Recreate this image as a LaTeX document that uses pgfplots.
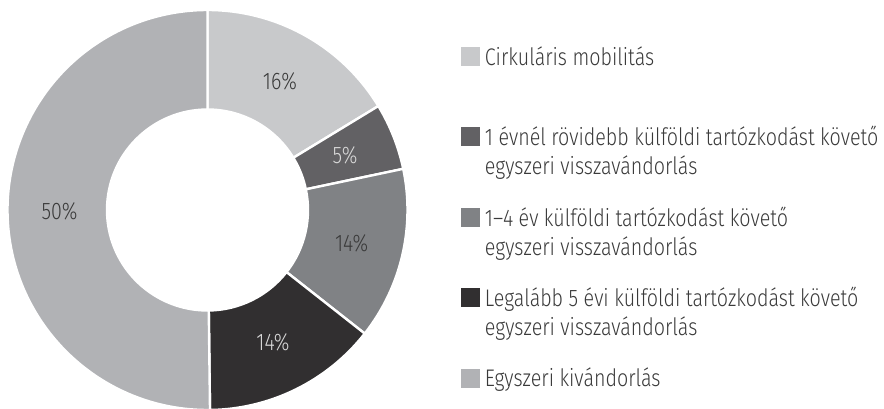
\documentclass[border=0pt]{standalone}
\usepackage{pgfplots}
\pgfplotsset{compat=1.18}
\usepackage{pgfplotstable}
\usepackage{fontspec}
\setmainfont{Fira Sans Light}[FakeStretch=0.82]
\definecolor{cA}{HTML}{C8C9CB}
\definecolor{cB}{HTML}{626164}
\definecolor{cC}{HTML}{808285}
\definecolor{cD}{HTML}{312F30}
\definecolor{cE}{HTML}{B1B2B5}
\definecolor{lblDark}{HTML}{3A3A3A}
\definecolor{lblLight}{HTML}{D8D8D8}
\definecolor{txt}{HTML}{3A3A3A}
\newcommand\twoline[2]{\begin{tabular}[t]{@{}l@{}}#1\\#2\end{tabular}}
\pgfplotstableread{
value col lab labcol
16.3 cA 16 lblDark
5.4 cB 5 lblLight
13.9 cC 14 lblDark
14.2 cD 14 lblLight
50.2 cE 50 lblDark
}\piedata
\begin{document}
\begin{tikzpicture}
\pgfmathsetmacro{\cum}{0}
\pgfplotsforeachungrouped \i in {0,...,4}{%
  \pgfplotstablegetelem{\i}{value}\of\piedata \let\v\pgfplotsretval
  \pgfmathsetmacro{\a}{90-3.6*\cum}%
  \pgfmathsetmacro{\b}{90-3.6*(\cum+\v)}%
  \pgfmathsetmacro{\m}{(\a+\b)/2}%
  \expandafter\xdef\csname pS\i\endcsname{\a}%
  \expandafter\xdef\csname pE\i\endcsname{\b}%
  \expandafter\xdef\csname pM\i\endcsname{\m}%
  \pgfplotstablegetelem{\i}{col}\of\piedata
  \expandafter\xdef\csname pC\i\endcsname{\pgfplotsretval}%
  \pgfplotstablegetelem{\i}{lab}\of\piedata
  \expandafter\xdef\csname pL\i\endcsname{\pgfplotsretval}%
  \pgfplotstablegetelem{\i}{labcol}\of\piedata
  \expandafter\xdef\csname pT\i\endcsname{\pgfplotsretval}%
  \pgfmathsetmacro{\cum}{\cum+\v}%
}
\begin{axis}[
  x=1bp, y=1bp, xmin=0, xmax=884, ymin=0, ymax=408,
  hide axis, clip=false,
  legend style={at={(axis cs:460.5,361)}, anchor=north west, draw=none, fill=none,
    inner sep=0pt, outer sep=0pt, row sep=62bp, column sep=6bp,
    font=\fontsize{24bp}{29bp}\selectfont\color{txt},
    cells={anchor=base west},
    nodes={inner sep=0pt, text height=15bp, text depth=0bp}},
]
\pgfplotsinvokeforeach{0,...,4}{
  \fill[fill=\csname pC#1\endcsname, draw=white, line width=2.4bp, shift={(axis cs:207.5,198)}]
    (\csname pS#1\endcsname:200bp) arc[start angle=\csname pS#1\endcsname, end angle=\csname pE#1\endcsname, radius=200bp]
    -- (\csname pE#1\endcsname:100.5bp) arc[start angle=\csname pE#1\endcsname, end angle=\csname pS#1\endcsname, radius=100.5bp] -- cycle;
  \node[text=\csname pT#1\endcsname, font=\fontsize{24bp}{28bp}\selectfont, shift={(axis cs:207.5,198)}]
    at (\csname pM#1\endcsname:148bp) {\csname pL#1\endcsname\%};
}
\addlegendimage{legend image code/.code={\fill[cA] (0bp,0bp) rectangle (18bp,18bp);}}
\addlegendentry{\twoline{Cirkuláris mobilitás}{}}
\addlegendimage{legend image code/.code={\fill[cB] (0bp,0bp) rectangle (18bp,18bp);}}
\addlegendentry{\twoline{1 évnél rövidebb külföldi tartózkodást követő}{egyszeri visszavándorlás}}
\addlegendimage{legend image code/.code={\fill[cC] (0bp,0bp) rectangle (18bp,18bp);}}
\addlegendentry{\twoline{1–4 év külföldi tartózkodást követő}{egyszeri visszavándorlás}}
\addlegendimage{legend image code/.code={\fill[cD] (0bp,0bp) rectangle (18bp,18bp);}}
\addlegendentry{\twoline{Legalább 5 évi külföldi tartózkodást követő}{egyszeri visszavándorlás}}
\addlegendimage{legend image code/.code={\fill[cE] (0bp,0bp) rectangle (18bp,18bp);}}
\addlegendentry{\twoline{Egyszeri kivándorlás}{}}
\end{axis}
\pgfresetboundingbox
\path (current axis.south west) rectangle (current axis.north east);
\end{tikzpicture}
\end{document}
